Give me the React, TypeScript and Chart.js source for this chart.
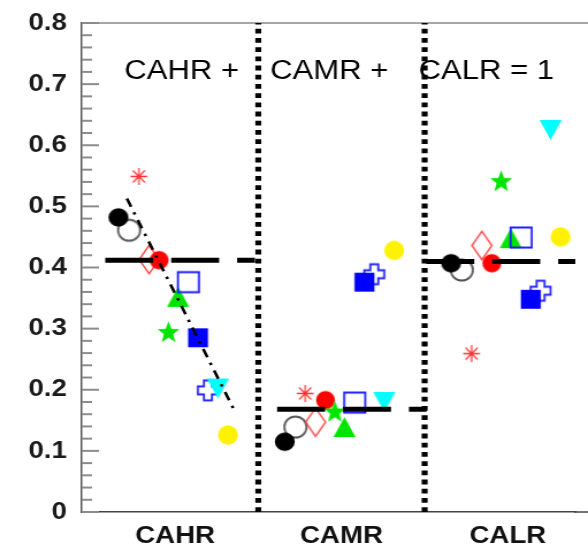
import React, { useEffect, useRef } from 'react';
import { Chart, registerables } from 'chart.js';

Chart.register(...registerables);

// ---------------- data ----------------
const categories = ['CAHR', 'CAMR', 'CALR'];
const yTickLabels = ['0', '0.1', '0.2', '0.3', '0.4', '0.5', '0.6', '0.7', '0.8'];
const annotations = ['CAHR +', 'CAMR +', 'CALR = 1'];

const blackFilledCircle = [0.482, 0.115, 0.407];
const greyOpenCircle = [0.461, 0.139, 0.396];
const redAsterisk = [0.549, 0.194, 0.259];
const redOpenDiamond = [0.413, 0.147, 0.436];
const redFilledCircle = [0.412, 0.183, 0.407];
const greenStar = [0.295, 0.165, 0.542];
const greenTriangle = [0.352, 0.139, 0.448];
const blueOpenSquare = [0.376, 0.179, 0.449];
const blueFilledSquare = [0.285, 0.376, 0.348];
const blueOpenCross = [0.199, 0.389, 0.362];
const cyanDownTriangle = [0.202, 0.18, 0.625];
const yellowCircle = [0.126, 0.428, 0.45];

const groupMeans = [0.412, 0.168, 0.41];
const trendX = [-0.29, 0.351];
const trendY = [0.513, 0.169];

// ---------------- layout ----------------
const S = 1.15; // horizontal stretch of the canvas (css px / canvas px)
const CSS_W = 588;
const CSS_H = 547;
const W = Math.round(CSS_W / S);
const H = CSS_H;
const X_MIN = -0.5615;
const X_MAX = 2.484;
const UNIT_CSS = 166.25; // css px between category centres
const meanLineFrom = [-0.42, -0.387, -0.49];
const meanLineTo = [0.48, 0.511, 0.406];
const dividerX = [0.5, 1.5];
const annotationX = [-0.305, 0.571, 1.463];
const annotationY = 0.708;
const MK = 1.05; // marker size factor
const FONT = '"Liberation Sans", Arial, Helvetica, sans-serif';

type Draw = (g: CanvasRenderingContext2D, w: number, h: number) => void;

function makeMarker(w0: number, h0: number, draw: Draw): HTMLCanvasElement {
  const w = w0 * MK;
  const h = h0 * MK;
  const pad = 3;
  const c = document.createElement('canvas');
  const cw = Math.ceil((w + 2 * pad) / S);
  const ch = Math.ceil(h + 2 * pad);
  c.width = cw;
  c.height = ch;
  const g = c.getContext('2d') as CanvasRenderingContext2D;
  g.translate(cw / 2, ch / 2);
  g.scale(1 / S, 1);
  draw(g, w, h);
  return c;
}

const fillEllipse = (color: string): Draw => (g, w, h) => {
  g.fillStyle = color;
  g.beginPath();
  g.ellipse(0, 0, w / 2, h / 2, 0, 0, Math.PI * 2);
  g.fill();
};
const strokeEllipse = (color: string, lw: number): Draw => (g, w, h) => {
  g.strokeStyle = color;
  g.lineWidth = lw;
  g.beginPath();
  g.ellipse(0, 0, w / 2 - lw / 2, h / 2 - lw / 2, 0, 0, Math.PI * 2);
  g.stroke();
};
const strokeDiamond = (color: string, lw: number): Draw => (g, w, h) => {
  g.strokeStyle = color;
  g.lineWidth = lw;
  g.beginPath();
  g.moveTo(0, -h / 2);
  g.lineTo(w / 2, 0);
  g.lineTo(0, h / 2);
  g.lineTo(-w / 2, 0);
  g.closePath();
  g.stroke();
};
const asterisk = (color: string, lw: number): Draw => (g, w, h) => {
  g.strokeStyle = color;
  g.lineWidth = lw;
  g.beginPath();
  g.moveTo(-w / 2, 0); g.lineTo(w / 2, 0);
  g.moveTo(0, -h / 2); g.lineTo(0, h / 2);
  const d = 0.36;
  g.moveTo(-w * d, -h * d); g.lineTo(w * d, h * d);
  g.moveTo(-w * d, h * d); g.lineTo(w * d, -h * d);
  g.stroke();
  g.fillStyle = color;
  g.beginPath();
  g.arc(0, 0, 1.6, 0, Math.PI * 2);
  g.fill();
};
const triangle = (color: string, up: boolean): Draw => (g, w, h) => {
  const s = up ? 1 : -1;
  g.fillStyle = color;
  g.beginPath();
  g.moveTo(0, -s * h / 2);
  g.lineTo(w / 2, s * h / 2);
  g.lineTo(-w / 2, s * h / 2);
  g.closePath();
  g.fill();
};
const star5 = (color: string): Draw => (g, w, h) => {
  const rx = w / 1.902;
  const ry = h / 1.809;
  const cy = (ry - ry * 0.809) / 2;
  g.fillStyle = color;
  g.beginPath();
  for (let k = 0; k < 10; k++) {
    const r = k % 2 === 0 ? 1 : 0.42;
    const a = -Math.PI / 2 + (k * Math.PI) / 5;
    const px = Math.cos(a) * rx * r;
    const py = Math.sin(a) * ry * r + cy;
    if (k === 0) g.moveTo(px, py); else g.lineTo(px, py);
  }
  g.closePath();
  g.fill();
};
const strokeSquare = (color: string, lw: number): Draw => (g, w, h) => {
  g.strokeStyle = color;
  g.lineWidth = lw;
  g.strokeRect(-w / 2 + lw / 2, -h / 2 + lw / 2, w - lw, h - lw);
};
const fillSquare = (color: string): Draw => (g, w, h) => {
  g.fillStyle = color;
  g.fillRect(-w / 2, -h / 2, w, h);
};
const strokeCross = (color: string, lw: number): Draw => (g, w, h) => {
  const a = w / 2 - lw / 2;
  const b = h / 2 - lw / 2;
  const t = w * 0.18;
  g.strokeStyle = color;
  g.lineWidth = lw;
  g.beginPath();
  g.moveTo(-t, -b); g.lineTo(t, -b); g.lineTo(t, -t); g.lineTo(a, -t);
  g.lineTo(a, t); g.lineTo(t, t); g.lineTo(t, b); g.lineTo(-t, b);
  g.lineTo(-t, t); g.lineTo(-a, t); g.lineTo(-a, -t); g.lineTo(-t, -t);
  g.closePath();
  g.stroke();
};

export default function App() {
  const ref = useRef<HTMLCanvasElement | null>(null);

  useEffect(() => {
    const canvas = ref.current;
    if (!canvas) return;

    const series = [
      { name: 'Filled black circle', values: blackFilledCircle, dx: -0.341, order: 7, marker: makeMarker(19, 17.5, fillEllipse('#000000')) },
      { name: 'Open circle', values: greyOpenCircle, dx: -0.277, order: 11, marker: makeMarker(23, 22, strokeEllipse('#555555', 2)) },
      { name: 'Asterisk', values: redAsterisk, dx: -0.218, order: 9, marker: makeMarker(16, 16, asterisk('#ff3030', 1.4)) },
      { name: 'Open diamond', values: redOpenDiamond, dx: -0.156, order: 10, marker: makeMarker(19, 27, strokeDiamond('#ff3b3b', 1.5)) },
      { name: 'Filled red circle', values: redFilledCircle, dx: -0.096, order: 8, marker: makeMarker(18, 17.5, fillEllipse('#ff0000')) },
      { name: 'Green star', values: greenStar, dx: -0.04, order: 4, marker: makeMarker(21, 20, star5('#00e400')) },
      { name: 'Green triangle', values: greenTriangle, dx: 0.018, order: 6, marker: makeMarker(21, 19, triangle('#00e400', true)) },
      { name: 'Open square', values: blueOpenSquare, dx: 0.08, order: 5, marker: makeMarker(22, 21, strokeSquare('#1a1aff', 2)) },
      { name: 'Filled square', values: blueFilledSquare, dx: 0.138, order: 2, marker: makeMarker(19, 18, fillSquare('#0000ff')) },
      { name: 'Open cross', values: blueOpenCross, dx: 0.197, order: 12, marker: makeMarker(21, 21, strokeCross('#2020ff', 2)) },
      { name: 'Down triangle', values: cyanDownTriangle, dx: 0.257, order: 3, marker: makeMarker(21, 19, triangle('#00ffff', false)) },
      { name: 'Yellow circle', values: yellowCircle, dx: 0.317, order: 1, marker: makeMarker(19, 18.5, fillEllipse('#fff200')) },
    ];

    const scatterSets = series.map((s) => ({
      label: s.name,
      data: s.values.map((v, i) => ({ x: i + s.dx, y: v })),
      pointStyle: s.marker,
      pointRadius: 10,
      showLine: false,
      order: s.order,
    }));

    const lineBase = {
      showLine: true,
      pointRadius: 0,
      pointHoverRadius: 0,
      borderColor: '#000000',
      backgroundColor: '#000000',
      fill: false,
      order: 0,
    };

    const dividerSets = dividerX.map((xv, i) => ({
      ...lineBase,
      label: 'Divider ' + (i + 1),
      data: [{ x: xv, y: 0 }, { x: xv, y: 0.8 }],
      borderWidth: 5.2,
      borderDash: [4.8, 4.4],
      order: 13,
    }));

    const meanSets = groupMeans.map((m, i) => ({
      ...lineBase,
      label: 'Mean ' + categories[i],
      data: [{ x: i + meanLineFrom[i], y: m }, { x: i + meanLineTo[i], y: m }],
      borderWidth: 5,
      borderDash: [41.7, 15.6],
    }));

    const trendSet = {
      ...lineBase,
      label: 'Trend',
      data: trendX.map((xv, i) => ({ x: xv, y: trendY[i] })),
      borderWidth: 2.6,
      borderDash: [9, 6, 2.5, 6],
    };

    const framePlugin = {
      id: 'frame',
      beforeDatasetsDraw(chart: any) {
        const { ctx, chartArea, scales } = chart;
        const x = scales.x;
        const y = scales.y;
        ctx.save();
        ctx.strokeStyle = '#a6a6a6';
        ctx.lineWidth = 2;
        ctx.beginPath();
        ctx.moveTo(chartArea.left, chartArea.top);
        ctx.lineTo(chart.width, chartArea.top);
        ctx.stroke();
        ctx.strokeStyle = '#444444';
        ctx.lineWidth = 1.5;
        ctx.beginPath();
        ctx.moveTo(chartArea.right - 1, chartArea.bottom);
        ctx.lineTo(chart.width, chartArea.bottom);
        ctx.stroke();
        ctx.strokeStyle = '#8c8c8c';
        ctx.lineWidth = 2;
        for (let k = 0; k <= 40; k++) {
          const py = y.getPixelForValue(k * 0.02);
          const major = k % 5 === 0;
          ctx.beginPath();
          ctx.moveTo(chartArea.left, py);
          ctx.lineTo(chartArea.left + (major ? 15 : 9), py);
          ctx.stroke();
        }
        ctx.fillStyle = '#000000';
        ctx.font = '27px ' + FONT;
        ctx.textAlign = 'left';
        ctx.textBaseline = 'alphabetic';
        annotations.forEach((t, i) => {
          ctx.fillText(t, x.getPixelForValue(annotationX[i]), y.getPixelForValue(annotationY));
        });
        ctx.restore();
      },
    };

    const chart = new Chart(canvas, {
      type: 'scatter',
      data: { datasets: [trendSet, ...meanSets, ...dividerSets, ...scatterSets] as any },
      options: {
        animation: false,
        responsive: false,
        devicePixelRatio: 1,
        layout: { padding: { top: 23, left: 0, right: 0, bottom: 0 } },
        plugins: { legend: { display: false }, tooltip: { enabled: false } },
        scales: {
          x: {
            type: 'linear',
            min: X_MIN,
            max: X_MAX,
            grid: { display: false, drawTicks: false },
            border: { display: true, color: '#444444', width: 1.5 },
            afterBuildTicks: (s: any) => {
              s.ticks = categories.map((_, i) => ({ value: i }));
            },
            afterFit: (s: any) => {
              s.height = 35;
              s.paddingLeft = 0;
              s.paddingRight = 0;
            },
            ticks: {
              autoSkip: false,
              maxRotation: 0,
              padding: 10,
              color: '#111111',
              font: { family: FONT, size: 24, weight: 'bold' },
              callback: (v: any) => categories[Math.round(Number(v))] ?? '',
            },
          },
          y: {
            type: 'linear',
            min: 0,
            max: 0.8,
            grid: { display: false, drawTicks: false },
            border: { display: true, color: '#555555', width: 1.5 },
            afterFit: (s: any) => {
              s.width = 71;
              s.paddingTop = 0;
              s.paddingBottom = 0;
            },
            ticks: {
              stepSize: 0.1,
              padding: 13,
              color: '#1a1a1a',
              font: { family: FONT, size: 24, weight: 'bold' },
              callback: (v: any) => yTickLabels[Math.round(Number(v) * 10)] ?? '',
            },
          },
        },
      } as any,
      plugins: [framePlugin],
    });

    // keep the category spacing fixed whatever width the layout left for the plot
    const area = chart.chartArea;
    const unitPx = UNIT_CSS / S;
    (chart.options.scales as any).x.max = X_MIN + (area.right - area.left) / unitPx;
    chart.update();

    return () => chart.destroy();
  }, []);

  return (
    <div style={{ position: 'fixed', left: 0, top: 0, width: CSS_W, height: CSS_H, background: '#ffffff', overflow: 'hidden' }}>
      <canvas ref={ref} width={W} height={H} style={{ width: CSS_W, height: CSS_H, display: 'block' }} />
    </div>
  );
}
